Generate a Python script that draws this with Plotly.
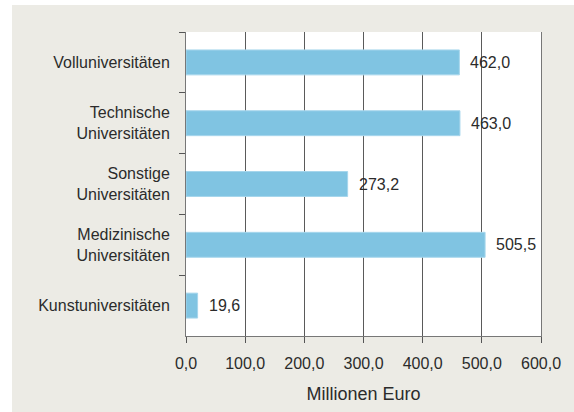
import plotly.graph_objects as go

categories = ["Volluniversitäten", "Technische<br>Universitäten", "Sonstige<br>Universitäten",
              "Medizinische<br>Universitäten", "Kunstuniversitäten"]
values = [462.0, 463.0, 273.2, 505.5, 19.6]
x_ticks = [0, 100, 200, 300, 400, 500, 600]
x_title = "Millionen Euro"

FONT = "Liberation Sans, Arial, sans-serif"
TXT = "#2b2b2b"
BEIGE = "#ecebe5"
GRID = "#5a5a5a"

def fmt(v):
    return f"{v:.1f}".replace(".", ",")

fig = go.Figure()
fig.add_trace(go.Bar(
    x=values, y=categories, orientation="h",
    marker=dict(color="#80c4e2", line=dict(color="#a6d6ec", width=1)),
    width=0.41, hoverinfo="skip",
))

for c, v in zip(categories, values):
    fig.add_annotation(x=v, y=c, text=fmt(v), showarrow=False, xanchor="left",
                       xshift=9, font=dict(family=FONT, size=16, color=TXT))

fig.update_layout(
    width=574, height=412,
    margin=dict(l=186, r=33, t=32, b=76),
    paper_bgcolor=BEIGE, plot_bgcolor="white",
    separators=",.",
    showlegend=False,
    font=dict(family=FONT, size=16, color=TXT),
    shapes=[
        dict(type="rect", xref="paper", yref="paper", x0=-0.6, x1=(12 - 186) / 355,
             y0=-0.4, y1=1.2, fillcolor="white", line=dict(width=0), layer="above"),
        dict(type="rect", xref="paper", yref="paper", x0=-0.6, x1=1.2,
             y0=(336 - 5) / 304, y1=1.2, fillcolor="white", line=dict(width=0), layer="above"),
    ],
    xaxis=dict(
        range=[0, 600], tickvals=x_ticks, tickformat=".1f",
        showgrid=True, gridcolor=GRID, gridwidth=1,
        showline=True, linecolor="#777777", linewidth=1,
        ticks="outside", ticklen=6, tickcolor="#555555",
        zeroline=False, ticklabelstandoff=7, automargin=False,
        title=dict(text=x_title, font=dict(family=FONT, size=18, color=TXT), standoff=16),
        fixedrange=True,
    ),
    yaxis=dict(
        categoryorder="array", categoryarray=categories, autorange="reversed",
        showline=True, linecolor="#777777", linewidth=1, mirror=True,
        ticks="outside", ticklen=6, tickcolor="#555555", tickson="boundaries",
        showgrid=False, ticklabelstandoff=12, automargin=False,
        fixedrange=True,
    ),
)

fig.write_html("out.html", config={"displayModeBar": False},
               post_script="document.body.style.margin='0';")
